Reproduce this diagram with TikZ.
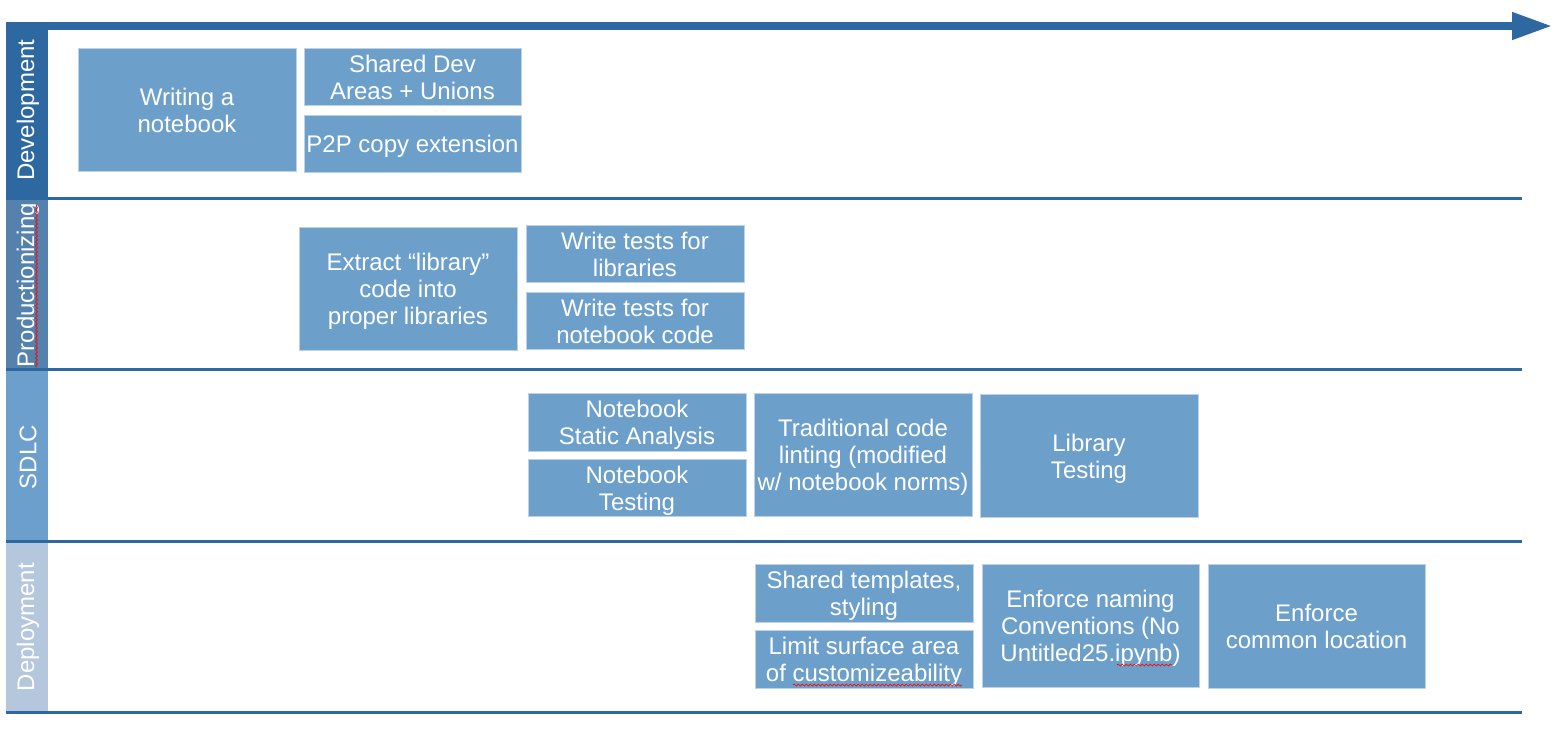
\documentclass[tikz,border=0pt]{standalone}
\usepackage{fontspec}
\setmainfont{Liberation Sans}
\usetikzlibrary{arrows.meta,decorations.pathmorphing}
\definecolor{lanedark}{RGB}{46,104,160}
\definecolor{laneprod}{RGB}{84,130,173}
\definecolor{lanesdlc}{RGB}{108,159,203}
\definecolor{lanedep}{RGB}{180,199,220}
\definecolor{boxblue}{RGB}{108,160,203}
\definecolor{boxedge}{RGB}{190,210,230}
\newcommand\ts{\rule{0pt}{23.5pt}}
\newcommand\botstrut{\rule[-5.1pt]{0pt}{5.1pt}}
\tikzset{
  taskbox/.style={rectangle, fill=boxblue, draw=boxedge, line width=0.8pt, text=white,
    align=center, inner sep=0pt, font=\fontsize{24}{27}\selectfont,
    execute at end node=\botstrut},
  lanelabel/.style={rotate=90, text=white, inner sep=0pt, font=\fontsize{24}{27}\selectfont},
  laneline/.style={draw=lanedark, line width=3pt},
  spell/.style={draw=red, line width=0.7pt, decorate,
    decoration={snake, amplitude=1pt, segment length=4pt}}
}
\begin{document}
\begin{tikzpicture}[x=1pt, y=-1pt]
\useasboundingbox (0,0) rectangle (1565,740);
% lane label columns
\fill[lanedark] (6,22) rectangle (48,198.5);
\fill[laneprod] (6,198.5) rectangle (48,369.7);
\fill[lanesdlc] (6,369.7) rectangle (48,541.3);
\fill[lanedep] (6,541.3) rectangle (48,712);
\node[lanelabel] (ldev) at (28,110) {Development};
\node[lanelabel] (lprod) at (28,285) {Productionizing};
\node[lanelabel] (lsdlc) at (28,457) {SDLC};
\node[lanelabel] (ldep) at (28,627) {Deployment};
\draw[spell] (36.5,367) -- (36.5,205);
% lane separators
\coordinate (s1a) at (6,198.5); \coordinate (s1b) at (1522,198.5);
\coordinate (s2a) at (6,369.7); \coordinate (s2b) at (1522,369.7);
\coordinate (s3a) at (6,541.3); \coordinate (s3b) at (1522,541.3);
\coordinate (s4a) at (6,712);   \coordinate (s4b) at (1522,712);
\draw[laneline] (s1a) -- (s1b);
\draw[laneline] (s2a) -- (s2b);
\draw[laneline] (s3a) -- (s3b);
\draw[laneline] (s4a) -- (s4b);
% timeline arrow
\coordinate (arrS) at (6,26);
\coordinate (arrE) at (1552,26);
\draw[lanedark, line width=7.5pt, -{Triangle[length=40pt,width=26pt]}] (arrS) -- (arrE);
% Development
\node[taskbox, minimum width=218pt, minimum height=123pt] (wn) at (187,109.5) {\ts Writing a\\notebook};
\node[taskbox, minimum width=217pt, minimum height=57pt] (sd) at (412.5,76.5) {\ts Shared Dev\\Areas + Unions};
\node[taskbox, minimum width=217pt, minimum height=57pt] (p2p) at (412.5,143.5) {\ts P2P copy extension};
% Productionizing
\node[taskbox, minimum width=218pt, minimum height=123pt] (ex) at (408,288.5) {\ts Extract “library”\\code into\\proper libraries};
\node[taskbox, minimum width=218pt, minimum height=57pt] (wtl) at (635,253.5) {\ts Write tests for\\libraries};
\node[taskbox, minimum width=218pt, minimum height=57pt] (wtn) at (635,320.5) {\ts Write tests for\\notebook code};
% SDLC
\node[taskbox, minimum width=218pt, minimum height=58pt] (nsa) at (637,422) {\ts Notebook\\Static Analysis};
\node[taskbox, minimum width=218pt, minimum height=57pt] (nt) at (637,487.5) {\ts Notebook\\Testing};
\node[taskbox, minimum width=218pt, minimum height=123pt] (tcl) at (863,454.5) {\ts Traditional code\\linting (modified\\w/ notebook norms)};
\node[taskbox, minimum width=218pt, minimum height=123pt] (lt) at (1089,455.5) {\ts Library\\Testing};
% Deployment
\node[taskbox, minimum width=218pt, minimum height=58pt] (st) at (864,593) {\ts Shared templates,\\styling};
\node[taskbox, minimum width=218pt, minimum height=58pt] (ls) at (864,659) {\ts Limit surface area\\of customizeability};
\node[taskbox, minimum width=217pt, minimum height=123pt] (en) at (1090.5,625.5) {\ts Enforce naming\\Conventions (No\\Untitled25.ipynb)};
\node[taskbox, minimum width=217pt, minimum height=124pt] (ec) at (1316.5,626) {\ts Enforce\\common location};
% spell-check marks
\draw[spell] (793,685) -- (962,685);
\draw[spell] (1117,665) -- (1172,665);
\end{tikzpicture}
\end{document}
